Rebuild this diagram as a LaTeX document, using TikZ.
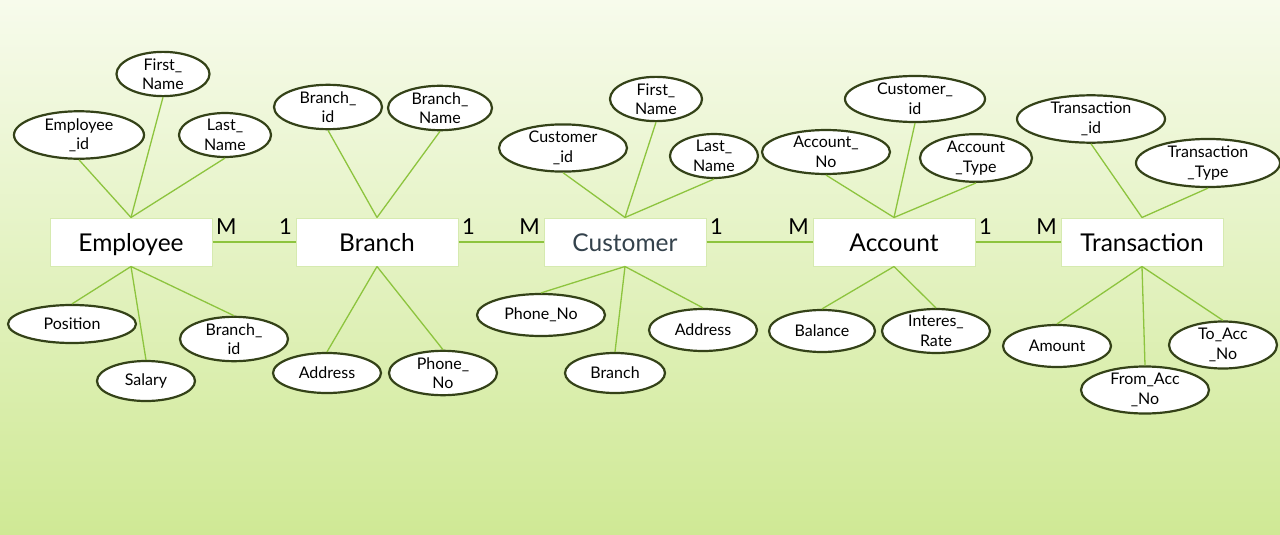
\documentclass[tikz,border=0pt]{standalone}
\usepackage{fontspec}
\setmainfont{Lato}
\usetikzlibrary{shapes.geometric}
\definecolor{bgtop}{RGB}{247,251,236}
\definecolor{bgmid}{RGB}{228,242,196}
\definecolor{bgbot}{RGB}{207,233,149}
\definecolor{linkgreen}{RGB}{141,196,62}
\definecolor{attrborder}{RGB}{52,66,24}
\definecolor{boxborder}{RGB}{214,234,176}
\definecolor{custtext}{RGB}{52,66,76}
\tikzset{
  entity/.style={draw=boxborder, line width=1pt, fill=white, minimum width=162pt, minimum height=48pt, inner sep=0pt, text height=23pt, text depth=5pt, font=\fontsize{24.5}{27}\selectfont},
  attr/.style={ellipse, draw=attrborder, line width=2.2pt, fill=white, inner sep=0pt, align=center, font=\fontsize{16}{19.5}\selectfont},
  link/.style={draw=linkgreen, line width=1.3pt},
  card/.style={font=\fontsize{22}{24}\selectfont, inner sep=3pt, yshift=4pt}
}
\begin{document}
\begin{tikzpicture}[x=1pt,y=-1pt]
  \shade[top color=bgtop, middle color=bgmid, bottom color=bgbot] (0,0) rectangle (1280,535);
  \useasboundingbox (0,0) rectangle (1280,535);
  % attributes of Employee
  \node[attr, minimum width=130pt, minimum height=39pt] (empid) at (79,135) {Employee\\\_id};
  \node[attr, minimum width=93pt, minimum height=44pt] (empfn) at (163,74) {First\_\\Name};
  \node[attr, minimum width=92pt, minimum height=40pt] (empln) at (225,135) {Last\_\\Name};
  \node[attr, minimum width=128pt, minimum height=38pt] (emppos) at (72,324) {Position};
  \node[attr, minimum width=98pt, minimum height=40pt] (empsal) at (146,381) {Salary};
  \node[attr, minimum width=108pt, minimum height=40pt] (empbid) at (234,339) {Branch\_\\id};
  % attributes of Branch
  \node[attr, minimum width=108pt, minimum height=40pt] (brid) at (328,107) {Branch\_\\id};
  \node[attr, minimum width=104pt, minimum height=40pt] (brname) at (440,108) {Branch\_\\Name};
  \node[attr, minimum width=108pt, minimum height=40pt] (braddr) at (327,373) {Address};
  \node[attr, minimum width=108pt, minimum height=40pt] (brphone) at (443,373) {Phone\_\\No};
  % attributes of Customer
  \node[attr, minimum width=128pt, minimum height=40pt] (custid) at (563,148) {Customer\\\_id};
  \node[attr, minimum width=92pt, minimum height=44pt] (custfn) at (656,99) {First\_\\Name};
  \node[attr, minimum width=88pt, minimum height=42pt] (custln) at (714,156) {Last\_\\Name};
  \node[attr, minimum width=128pt, minimum height=42pt] (custphone) at (541,315) {Phone\_No};
  \node[attr, minimum width=100pt, minimum height=40pt] (custbr) at (615,373) {Branch};
  \node[attr, minimum width=108pt, minimum height=42pt] (custaddr) at (703,330) {Address};
  % attributes of Account
  \node[attr, minimum width=128pt, minimum height=42pt] (accno) at (826,152) {Account\_\\No};
  \node[attr, minimum width=140pt, minimum height=46pt] (acccid) at (915,99) {Customer\_\\id};
  \node[attr, minimum width=112pt, minimum height=42pt] (acctype) at (976,158) {Account\\\_Type};
  \node[attr, minimum width=106pt, minimum height=42pt] (accbal) at (822,331) {Balance};
  \node[attr, minimum width=108pt, minimum height=42pt] (accrate) at (936,331) {Interes\_\\Rate};
  % attributes of Transaction
  \node[attr, minimum width=148pt, minimum height=46pt] (trid) at (1091,119) {Transaction\\\_id};
  \node[attr, minimum width=144pt, minimum height=42pt] (trtype) at (1208,163) {Transaction\\\_Type};
  \node[attr, minimum width=108pt, minimum height=42pt] (tramt) at (1057,346) {Amount};
  \node[attr, minimum width=128pt, minimum height=42pt] (trfrom) at (1145,390) {From\_Acc\\\_No};
  \node[attr, minimum width=108pt, minimum height=42pt] (trto) at (1223,345) {To\_Acc\\\_No};
  % entities
  \node[entity] (emp) at (131,242) {Employee};
  \node[entity] (br) at (377,242) {Branch};
  \node[entity, text=custtext] (cust) at (625,242) {Customer};
  \node[entity] (acc) at (894,242) {Account};
  \node[entity] (tr) at (1142,242) {Transaction};
  % connectors
  \foreach \a in {empid,empfn,empln} \draw[link] (emp.north) -- (\a.south);
  \foreach \a in {emppos,empsal,empbid} \draw[link] (emp.south) -- (\a.north);
  \foreach \a in {brid,brname} \draw[link] (br.north) -- (\a.south);
  \foreach \a in {braddr,brphone} \draw[link] (br.south) -- (\a.north);
  \foreach \a in {custid,custfn,custln} \draw[link] (cust.north) -- (\a.south);
  \foreach \a in {custphone,custbr,custaddr} \draw[link] (cust.south) -- (\a.north);
  \foreach \a in {accno,acccid,acctype} \draw[link] (acc.north) -- (\a.south);
  \foreach \a in {accbal,accrate} \draw[link] (acc.south) -- (\a.north);
  \foreach \a in {trid,trtype} \draw[link] (tr.north) -- (\a.south);
  \foreach \a in {tramt,trfrom,trto} \draw[link] (tr.south) -- (\a.north);
  \draw[link] (emp) -- (br) node[card, pos=0, above right] {M} node[card, pos=1, above left] {1};
  \draw[link] (br) -- (cust) node[card, pos=0, above right] {1} node[card, pos=1, above left] {M};
  \draw[link] (cust) -- (acc) node[card, pos=0, above right] {1} node[card, pos=1, above left] {M};
  \draw[link] (acc) -- (tr) node[card, pos=0, above right] {1} node[card, pos=1, above left] {M};
\end{tikzpicture}
\end{document}
